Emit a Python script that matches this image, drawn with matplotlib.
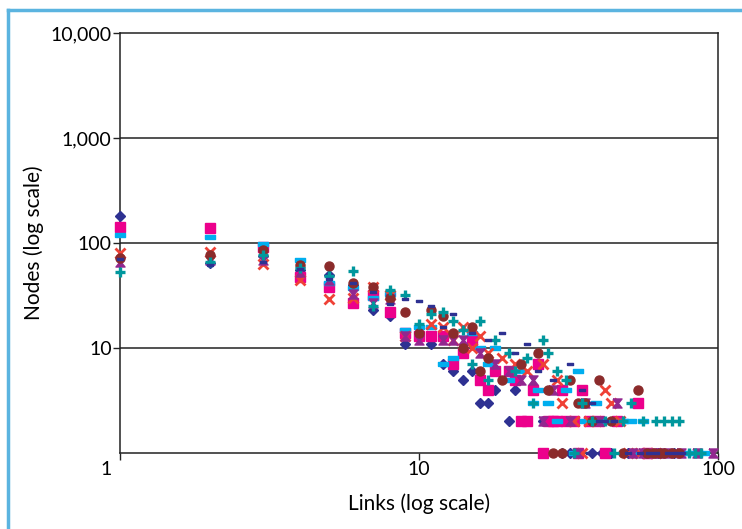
import matplotlib
matplotlib.use("Agg")
import matplotlib.pyplot as plt
from matplotlib.lines import Line2D
from matplotlib.path import Path
from matplotlib.transforms import ScaledTranslation
from matplotlib.ticker import FixedLocator, NullLocator

plt.rcParams['font.family'] = ['Lato', 'DejaVu Sans']

# degree distributions: links (x) vs number of nodes (y)
diamond_x = [1, 2, 3, 4, 5, 6, 7, 8, 9, 11, 12, 13, 14, 15, 16, 17, 18, 20, 21, 23, 26, 30, 32, 34, 38, 41, 44, 50, 56, 63, 71]
diamond_y = [180, 64, 75, 55, 50, 40, 23, 20, 11, 11, 7, 6, 5, 6, 3, 3, 4, 2, 4, 2, 2, 1, 1, 1, 1, 1, 1, 1, 1, 1, 1]

square_x = [1, 2, 3, 4, 5, 6, 7, 8, 9, 10, 11, 12, 13, 14, 15, 16, 17, 18, 20, 21, 22, 23, 24, 25, 26, 27, 28, 29, 30,
            31, 33, 34, 35, 37, 40, 42, 46, 54, 58]
square_y = [143, 139, 92, 47, 38, 27, 32, 22, 14, 13, 13, 13, 7, 9, 12, 5, 4, 6, 6, 5, 2, 2, 4, 7, 1, 2, 2, 2, 4,
            2, 2, 1, 4, 2, 2, 1, 2, 3, 1]

cyan_x = [1, 2, 3, 4, 5, 6, 7, 8, 9, 10, 11, 12, 13, 15, 16, 17, 18, 20, 22, 24, 25, 27, 29, 31, 33, 34, 36, 39, 41, 43,
          46, 48, 51, 53, 56, 58, 60, 63, 66, 69, 72, 76, 80, 83, 86, 90]
cyan_y = [119, 114, 98, 69, 42, 37, 30, 33, 15, 16, 16, 7, 8, 14, 10, 7, 10, 5, 6, 3, 4, 3, 2, 4, 1, 6, 2, 3, 2, 2,
          2, 2, 2, 1, 2, 1, 1, 1, 1, 1, 1, 1, 1, 1, 1, 1]

cross_x = [1, 2, 3, 4, 5, 6, 7, 8, 9, 11, 12, 13, 14, 15, 16, 17, 19, 21, 23, 26, 29, 30, 33, 35, 37, 39, 42, 44, 47, 50,
           55, 58, 62]
cross_y = [80, 82, 63, 44, 29, 30, 38, 32, 13, 17, 16, 12, 16, 10, 13, 9, 8, 7, 6, 7, 5, 3, 2, 1, 2, 2, 4, 3, 2, 1,
           1, 1, 1]

star_x = [1, 2, 3, 4, 5, 6, 7, 8, 9, 10, 12, 13, 14, 16, 18, 20, 22, 24, 26, 28, 32, 34, 36, 40, 46, 52, 56, 60, 64, 68,
          75, 85, 96]
star_y = [66, 69, 69, 53, 44, 33, 27, 29, 13, 12, 12, 12, 12, 9, 7, 6, 5, 5, 2, 4, 2, 1, 3, 2, 3, 1, 1, 1, 1, 1,
          1, 1, 1]

circle_x = [1, 2, 3, 4, 5, 6, 7, 8, 9, 10, 11, 12, 13, 14, 15, 16, 17, 19, 22, 25, 27, 28, 30, 32, 34, 36, 38, 40,
            44, 48, 54, 58, 61, 64, 66, 70, 74]
circle_y = [72, 77, 86, 62, 60, 42, 38, 30, 22, 14, 23, 20, 14, 10, 16, 6, 8, 5, 7, 9, 4, 1, 1, 5, 3, 3, 2, 5,
            2, 1, 4, 1, 1, 1, 1, 1, 1]

plus_x = [1, 2, 3, 4, 5, 6, 7, 8, 9, 10, 11, 12, 13, 14, 15, 16, 17, 18, 20, 21, 23, 24, 26, 27, 29, 31, 33, 35, 38, 42,
          45, 48, 51, 56, 62, 66, 70, 74, 80, 84, 88]
plus_y = [53, 66, 77, 58, 48, 54, 25, 36, 32, 17, 21, 22, 18, 15, 7, 18, 5, 12, 9, 6, 8, 3, 12, 9, 6, 5, 1, 3, 2, 2,
          1, 2, 3, 2, 2, 2, 2, 2, 1, 1, 1]

dash_x = [1, 2, 3, 4, 5, 6, 7, 8, 9, 10, 11, 12, 13, 15, 17, 19, 21, 23, 25, 28, 32, 35, 37, 38, 40, 42, 45, 50, 55, 59,
          62, 68, 72, 76]
dash_y = [70, 62, 66, 57, 45, 42, 34, 26, 29, 28, 25, 16, 21, 14, 12, 14, 9, 11, 6, 5, 7, 4, 1, 3, 2, 2, 2, 1, 1, 1,
          1, 1, 1, 1]

# excel-like marker shapes
bar = Path([(-1, -0.4), (1, -0.4), (1, 0.4), (-1, 0.4), (-1, -0.4)])
hourglass = Path([(-1, 1), (1, 1), (0.2, 0), (1, -1), (-1, -1), (-0.2, 0), (-1, 1)])

fig = plt.figure(figsize=(7.42, 5.29), dpi=100)
ax = fig.add_axes([120 / 742, 76 / 529, 598 / 742, 420 / 529])

ms = 6.5
series = [
    (diamond_x, diamond_y, dict(marker='D', ms=5.5, color='#2E3192')),
    (square_x, square_y, dict(marker='s', ms=ms, color='#EC008C')),
    (cyan_x, cyan_y, dict(marker=bar, ms=7, color='#00AEEF')),
    (cross_x, cross_y, dict(marker='x', ms=ms, mew=2, color='#EF4136')),
    (star_x, star_y, dict(marker=hourglass, ms=ms, color='#92278F')),
    (circle_x, circle_y, dict(marker='o', ms=ms, color='#8B2B2B')),
    (plus_x, plus_y, dict(marker='+', ms=7.5, mew=2.4, color='#00979D')),
    (dash_x, dash_y, dict(marker=bar, ms=4.5, color='#2E3192')),
]
for xs, ys, style in series:
    ax.plot(xs, ys, linestyle='none', clip_on=False, zorder=3, **style)

ax.set_xscale('log')
ax.set_yscale('log')
ax.set_xlim(1, 100)
ax.set_ylim(1, 10000)

ax.xaxis.set_major_locator(FixedLocator([1, 10, 100]))
ax.yaxis.set_major_locator(FixedLocator([10, 100, 1000, 10000]))
ax.xaxis.set_minor_locator(NullLocator())
ax.yaxis.set_minor_locator(NullLocator())
ax.set_xticklabels(['1', '10', '100'])
ax.set_yticklabels(['10', '100', '1,000', '10,000'])
ax.tick_params(axis='both', direction='out', length=5, width=1, labelsize=14, color='#222222', pad=1)

lbl = ax.get_xticklabels()[0]
lbl.set_transform(lbl.get_transform() + ScaledTranslation(-0.14, 0, fig.dpi_scale_trans))

for v in [10, 100, 1000]:
    ax.axhline(v, color='#222222', lw=1.1, zorder=1)
for s in ax.spines.values():
    s.set_color('#222222')
    s.set_linewidth(1.1)

ax.set_xlabel('Links (log scale)', fontsize=15, labelpad=11)
ax.set_ylabel('Nodes (log scale)', fontsize=15, labelpad=5)

# light blue frame on top and left
fig.add_artist(Line2D([8 / 742, 1], [1 - 10 / 529, 1 - 10 / 529], color='#5BB4E0', lw=2.5))
fig.add_artist(Line2D([8 / 742, 8 / 742], [0, 1 - 10 / 529], color='#5BB4E0', lw=2.5))

fig.savefig('out.png', dpi=100)
